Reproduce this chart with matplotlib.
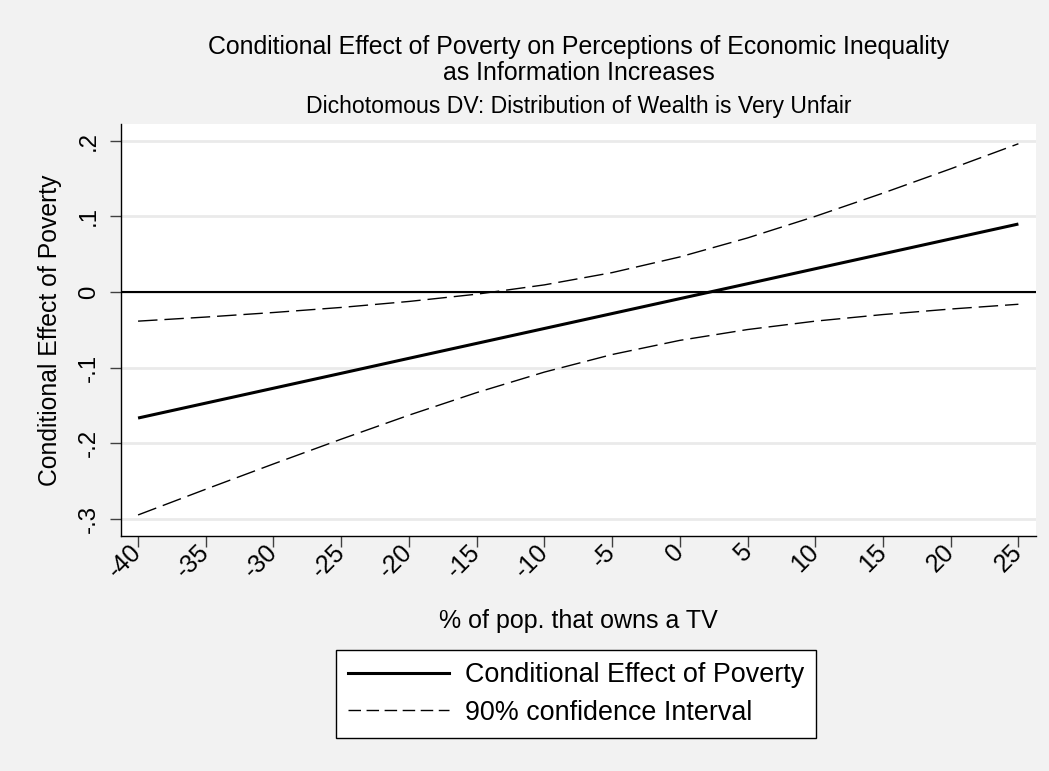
import matplotlib
matplotlib.use("Agg")
import matplotlib.pyplot as plt
from matplotlib.lines import Line2D

plt.rcParams['font.family'] = ['Liberation Sans', 'DejaVu Sans']

# Share of population owning a TV (centred), and the estimated marginal effect
tv_share = [-40, -35, -30, -25, -20, -15, -10, -5, 0, 5, 10, 15, 20, 25]
effect = [-0.1665, -0.1468, -0.1271, -0.1074, -0.0876, -0.0679, -0.0482,
          -0.0285, -0.0088, 0.0109, 0.0307, 0.0504, 0.0701, 0.0898]
ci_upper = [-0.0385, -0.0331, -0.0271, -0.0204, -0.0125, -0.0029, 0.0094,
            0.0256, 0.0463, 0.0714, 0.0999, 0.1306, 0.1627, 0.1958]
ci_lower = [-0.2945, -0.2605, -0.2271, -0.1944, -0.1627, -0.1329, -0.1058,
            -0.0826, -0.0639, -0.0496, -0.0385, -0.0298, -0.0225, -0.0162]

y_ticks = [0.2, 0.1, 0.0, -0.1, -0.2, -0.3]
y_tick_labels = ['.2', '.1', '0', '-.1', '-.2', '-.3']
x_ticks = [-40, -35, -30, -25, -20, -15, -10, -5, 0, 5, 10, 15, 20, 25]
x_tick_labels = [str(v) for v in x_ticks]

title_lines = ['Conditional Effect of Poverty on Perceptions of Economic Inequality',
               'as Information Increases']
subtitle = 'Dichotomous DV: Distribution of Wealth is Very Unfair'
x_title = '% of pop. that owns a TV'
y_title = 'Conditional Effect of Poverty'
legend_labels = ['Conditional Effect of Poverty', '90% confidence Interval']

W, H = 1049, 771
fig = plt.figure(figsize=(W / 100, H / 100), dpi=100)
fig.patch.set_facecolor('#f2f2f2')

left, right, top, bottom = 121, 1036, 124, 536
ax = fig.add_axes([left / W, 1 - bottom / H, (right - left) / W, (bottom - top) / H])
ax.set_facecolor('white')

ax.set_xlim(-41.26, 26.3)
ax.set_ylim(-0.3223, 0.2219)

for v in y_ticks:
    ax.axhline(v, color='#eaeaea', lw=2.0, zorder=0)

ax.axhline(0, color='black', lw=1.5, zorder=2)
ax.plot(tv_share, effect, color='black', lw=2.2, solid_capstyle='butt', zorder=3)
ax.plot(tv_share, ci_upper, color='black', lw=1.0, dashes=(14, 5), zorder=3)
ax.plot(tv_share, ci_lower, color='black', lw=1.0, dashes=(14, 5), zorder=3)

for side in ('top', 'right'):
    ax.spines[side].set_visible(False)
for side in ('left', 'bottom'):
    ax.spines[side].set_color('black')
    ax.spines[side].set_linewidth(1.0)

ax.set_yticks(y_ticks)
ax.set_yticklabels(y_tick_labels, rotation=90, va='center', fontsize=17.3)
ax.set_xticks(x_ticks)
ax.set_xticklabels(x_tick_labels, rotation=45, ha='right', va='center',
                   rotation_mode='anchor', fontsize=18)
ax.tick_params(axis='both', length=8, width=1.0, color='#404040', direction='out')
ax.tick_params(axis='y', pad=7)
ax.tick_params(axis='x', pad=1)

cx = (left + right) / 2 / W
fig.text(cx, 1 - 47 / H, title_lines[0], ha='center', va='center', fontsize=17.9)
fig.text(cx, 1 - 73 / H, title_lines[1], ha='center', va='center', fontsize=17.9)
fig.text(cx, 1 - 107 / H, subtitle, ha='center', va='center', fontsize=16.6)
fig.text(cx, 1 - 621 / H, x_title, ha='center', va='center', fontsize=18)
fig.text(50 / W, 1 - 330 / H, y_title, ha='center', va='center', rotation=90, fontsize=17.8)

handles = [Line2D([], [], color='black', lw=2.2),
           Line2D([], [], color='black', lw=1.0, dashes=(9, 4))]
leg = fig.legend(handles, legend_labels, loc='center',
                 bbox_to_anchor=(576 / W, 1 - 694 / H), fontsize=19.4,
                 frameon=True, fancybox=False, framealpha=1, edgecolor='black',
                 handlelength=3.75, handletextpad=0.6, borderpad=0.45,
                 labelspacing=0.42, borderaxespad=0)
leg.get_frame().set_linewidth(1.0)
leg.get_frame().set_facecolor('white')

fig.savefig('out.png', dpi=100, facecolor=fig.get_facecolor())
